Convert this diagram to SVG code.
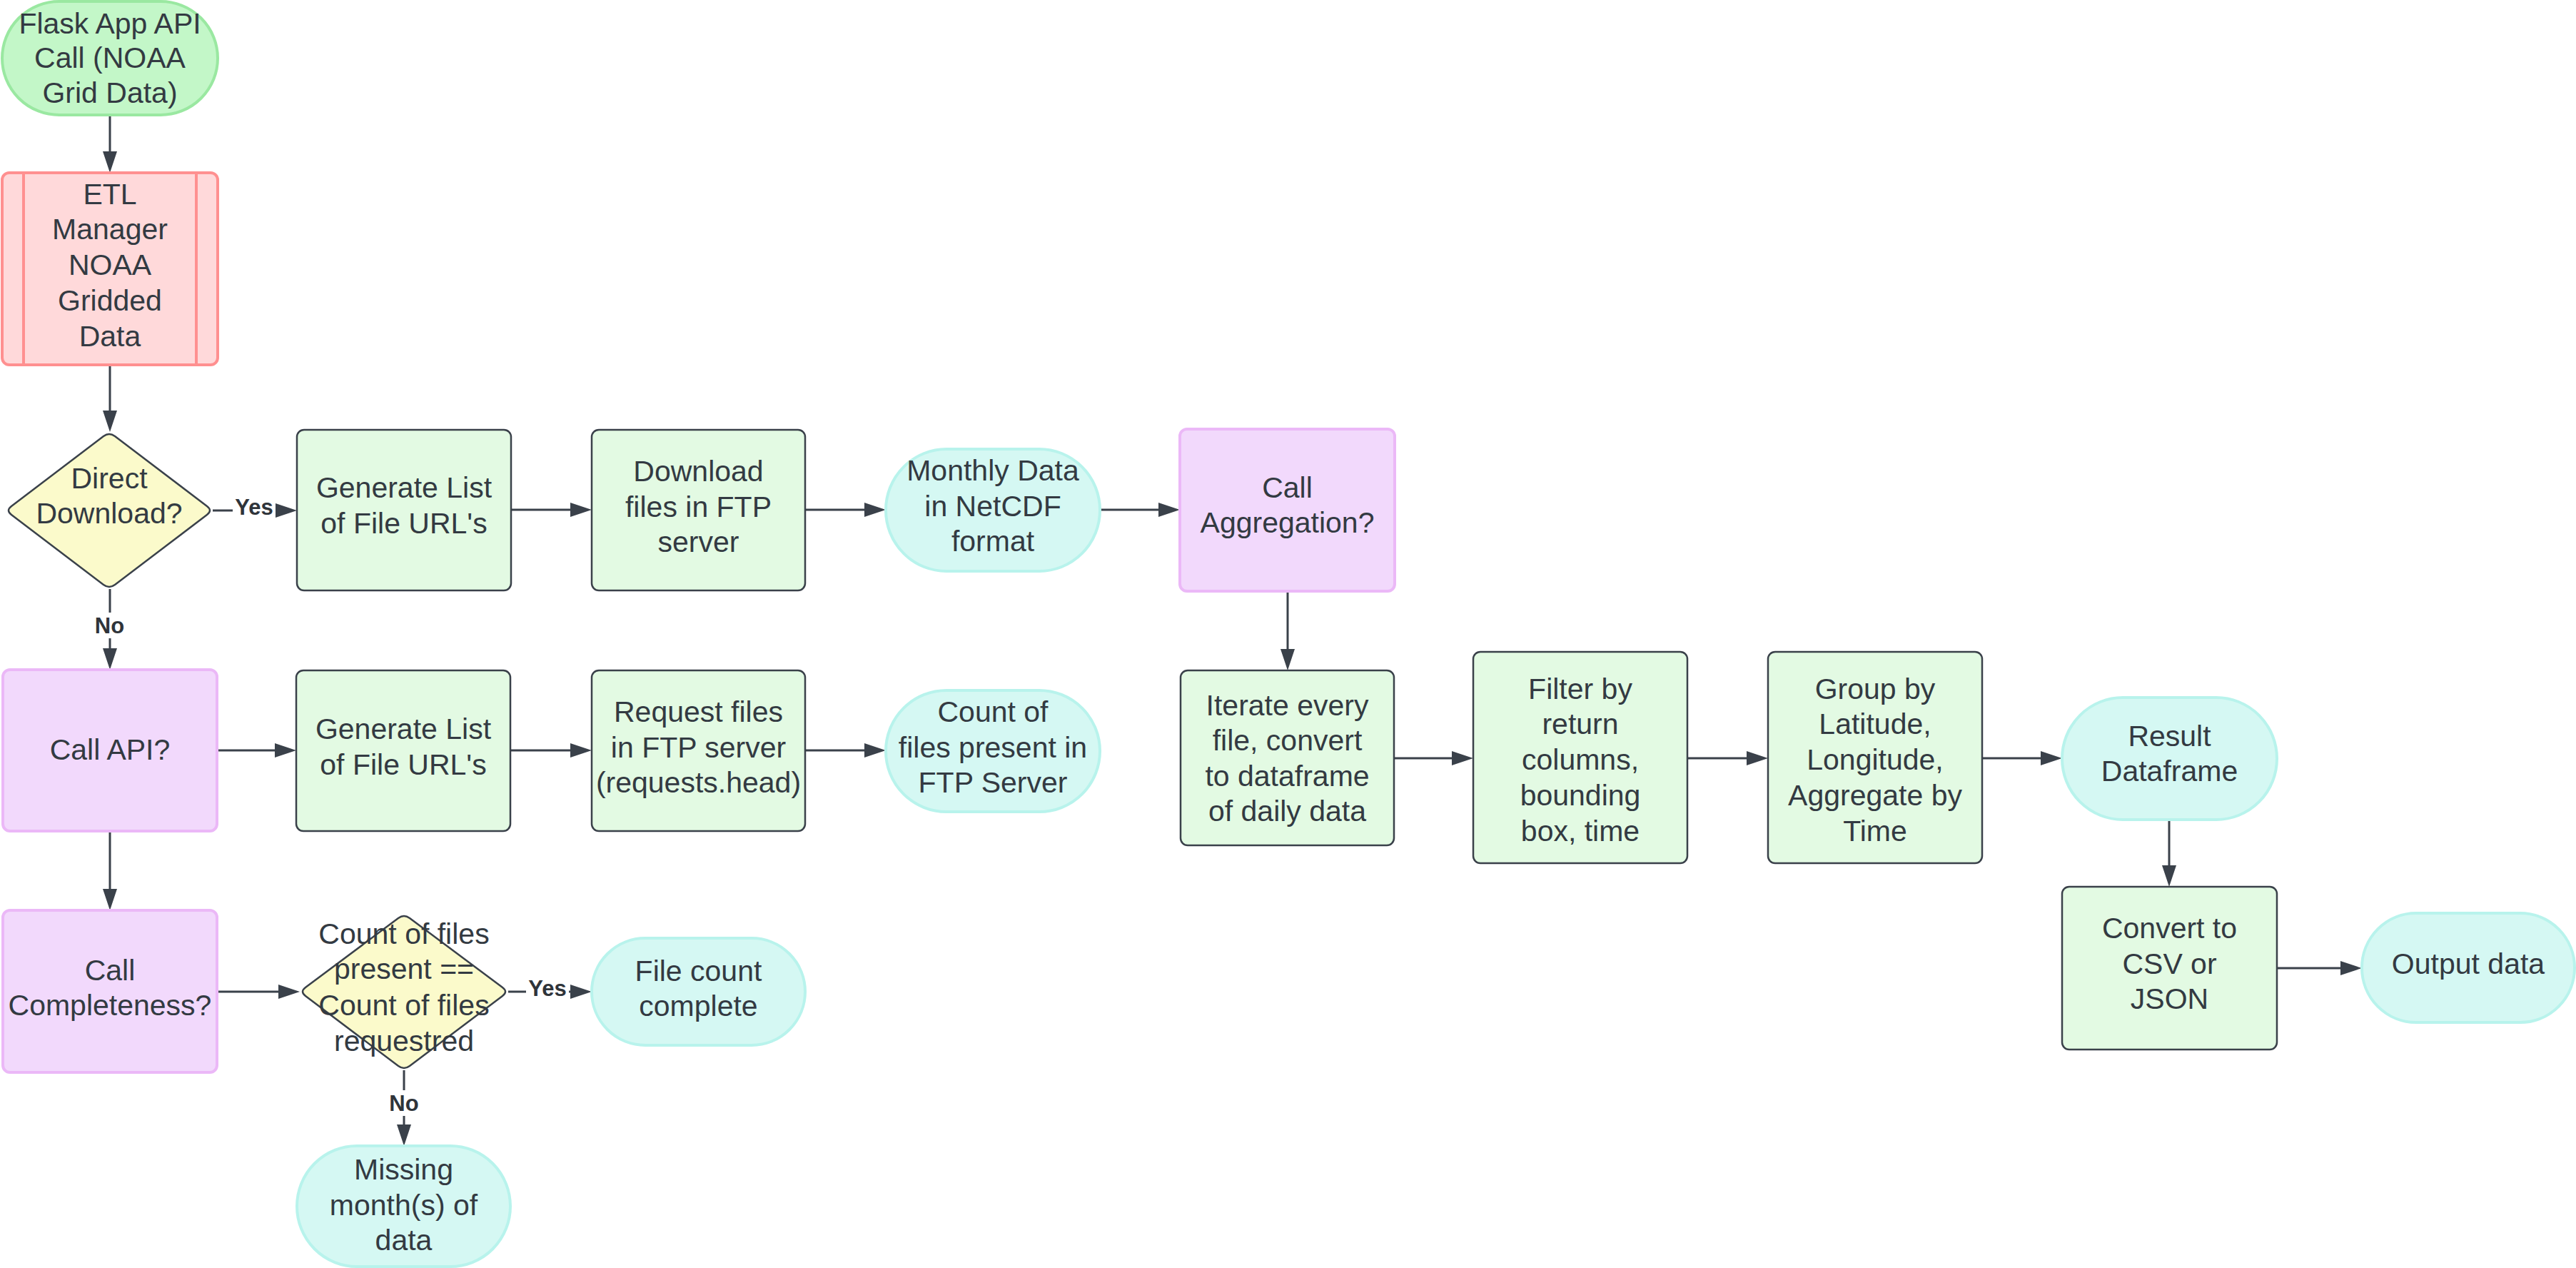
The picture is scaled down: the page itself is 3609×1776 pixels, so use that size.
<svg xmlns="http://www.w3.org/2000/svg" width="3609" height="1776" viewBox="0 0 3609 1776">
<defs>
<style>
.t{font-family:"Liberation Sans",Arial,sans-serif;font-size:41px;fill:#333a42;text-anchor:middle}
.lbl{font-family:"Liberation Sans",Arial,sans-serif;font-size:31px;font-weight:bold;fill:#2f343a;text-anchor:middle}
.c{fill:none;stroke:#3a414a;stroke-width:3;marker-end:url(#ah)}
.lb{fill:#ffffff}
.proc{fill:#e3fae3;stroke:#3a414a;stroke-width:2.5}
.term{fill:#d5f8f3;stroke:#b8f3ec;stroke-width:4}
.dec{fill:#f2d9fc;stroke:#ebb8f7;stroke-width:4}
.dia{fill:#fbfacb;stroke:#3a414a;stroke-width:2.5;stroke-linejoin:round}
.start{fill:#c3f7c8;stroke:#9ae8a1;stroke-width:4}
.etl{fill:#ffd9da;stroke:#ff9090;stroke-width:4}
</style>
<marker id="ah" markerUnits="userSpaceOnUse" markerWidth="30" markerHeight="20" refX="20" refY="10" orient="auto">
<path d="M0,0 L30,10 L0,20 Z" fill="#3a414a"/>
</marker>
</defs>
<rect width="3609" height="1776" fill="#ffffff"/>
<g id="connectors">
<path class="c" d="M154,163 V232"/>
<path class="c" d="M154,511 V595"/>
<path class="c" d="M298,715 H406"/>
<path class="c" d="M154,825 V928"/>
<path class="c" d="M716,714 H819"/>
<path class="c" d="M1128,714 H1231"/>
<path class="c" d="M1541,714 H1643"/>
<path class="c" d="M1804,828 V929"/>
<path class="c" d="M1953,1062 H2054"/>
<path class="c" d="M2364,1062 H2467"/>
<path class="c" d="M2777,1062 H2879"/>
<path class="c" d="M3039,1148 V1232"/>
<path class="c" d="M3190,1356 H3299"/>
<path class="c" d="M304,1051 H405"/>
<path class="c" d="M715,1051 H819"/>
<path class="c" d="M1128,1051 H1231"/>
<path class="c" d="M154,1164 V1265"/>
<path class="c" d="M304,1389 H410"/>
<path class="c" d="M712,1389 H819"/>
<path class="c" d="M566,1499 V1595"/>
<rect class="lb" x="326" y="694" width="60" height="34"/>
<text class="lbl" x="356" y="721">Yes</text>
<rect class="lb" x="130" y="858" width="47" height="36"/>
<text class="lbl" x="153.5" y="887">No</text>
<rect class="lb" x="737" y="1368" width="60" height="34"/>
<text class="lbl" x="767" y="1395">Yes</text>
<rect class="lb" x="542" y="1527" width="48" height="36"/>
<text class="lbl" x="566" y="1556">No</text>
</g>
<g id="flask">
<rect class="start" x="3" y="2" width="302" height="159" rx="80" ry="79.5"/>
<text class="t" x="154" y="47">Flask App API</text>
<text class="t" x="154" y="95">Call (NOAA</text>
<text class="t" x="154" y="144">Grid Data)</text>
</g>
<g id="etl">
<rect class="etl" x="3" y="242" width="302" height="269" rx="10"/>
<path class="etl" d="M33,242 V511 M275,242 V511"/>
<text class="t" x="154" y="286">ETL</text>
<text class="t" x="154" y="335">Manager</text>
<text class="t" x="154" y="385">NOAA</text>
<text class="t" x="154" y="435">Gridded</text>
<text class="t" x="154" y="485">Data</text>
</g>
<g id="direct-download">
<path class="dia" d="M161,611 L290,709 Q298,715 290,721 L161,819 Q153,825 145,819 L16,721 Q8,715 16,709 L145,611 Q153,605 161,611 Z"/>
<text class="t" x="153" y="684">Direct</text>
<text class="t" x="153" y="733">Download?</text>
</g>
<g id="gen-list-1">
<rect class="proc" x="416" y="602" width="300" height="225" rx="10"/>
<text class="t" x="566" y="697">Generate List</text>
<text class="t" x="566" y="747">of File URL's</text>
</g>
<g id="download">
<rect class="proc" x="829" y="602" width="299" height="225" rx="10"/>
<text class="t" x="978.5" y="674">Download</text>
<text class="t" x="978.5" y="724">files in FTP</text>
<text class="t" x="978.5" y="773">server</text>
</g>
<g id="monthly">
<rect class="term" x="1241" y="629" width="300" height="171" rx="85" ry="85.5"/>
<text class="t" x="1391" y="673">Monthly Data</text>
<text class="t" x="1391" y="723">in NetCDF</text>
<text class="t" x="1391" y="772">format</text>
</g>
<g id="call-aggregation">
<rect class="dec" x="1653" y="601" width="301" height="227" rx="10"/>
<text class="t" x="1803.5" y="697">Call</text>
<text class="t" x="1803.5" y="746">Aggregation?</text>
</g>
<g id="call-api">
<rect class="dec" x="4" y="938" width="300" height="226" rx="10"/>
<text class="t" x="154" y="1064">Call API?</text>
</g>
<g id="gen-list-2">
<rect class="proc" x="415" y="939" width="300" height="225" rx="10"/>
<text class="t" x="565" y="1035">Generate List</text>
<text class="t" x="565" y="1085">of File URL's</text>
</g>
<g id="request">
<rect class="proc" x="829" y="939" width="299" height="225" rx="10"/>
<text class="t" x="978.5" y="1011">Request files</text>
<text class="t" x="978.5" y="1061">in FTP server</text>
<text class="t" x="978.5" y="1110">(requests.head)</text>
</g>
<g id="count-present">
<rect class="term" x="1241" y="967" width="300" height="170" rx="85"/>
<text class="t" x="1391" y="1011">Count of</text>
<text class="t" x="1391" y="1061">files present in</text>
<text class="t" x="1391" y="1110">FTP Server</text>
</g>
<g id="iterate">
<rect class="proc" x="1654" y="939" width="299" height="245" rx="10"/>
<text class="t" x="1803.5" y="1002">Iterate every</text>
<text class="t" x="1803.5" y="1051">file, convert</text>
<text class="t" x="1803.5" y="1101">to dataframe</text>
<text class="t" x="1803.5" y="1150">of daily data</text>
</g>
<g id="filter">
<rect class="proc" x="2064" y="913" width="300" height="296" rx="10"/>
<text class="t" x="2214" y="979">Filter by</text>
<text class="t" x="2214" y="1028">return</text>
<text class="t" x="2214" y="1078">columns,</text>
<text class="t" x="2214" y="1128">bounding</text>
<text class="t" x="2214" y="1178">box, time</text>
</g>
<g id="group">
<rect class="proc" x="2477" y="913" width="300" height="296" rx="10"/>
<text class="t" x="2627" y="979">Group by</text>
<text class="t" x="2627" y="1028">Latitude,</text>
<text class="t" x="2627" y="1078">Longitude,</text>
<text class="t" x="2627" y="1128">Aggregate by</text>
<text class="t" x="2627" y="1178">Time</text>
</g>
<g id="result">
<rect class="term" x="2889" y="977" width="301" height="171" rx="85" ry="85.5"/>
<text class="t" x="3039.5" y="1045">Result</text>
<text class="t" x="3039.5" y="1094">Dataframe</text>
</g>
<g id="convert">
<rect class="proc" x="2889" y="1242" width="301" height="228" rx="10"/>
<text class="t" x="3039.5" y="1314">Convert to</text>
<text class="t" x="3039.5" y="1364">CSV or</text>
<text class="t" x="3039.5" y="1413">JSON</text>
</g>
<g id="output">
<rect class="term" x="3309" y="1279" width="298" height="153" rx="76" ry="76.5"/>
<text class="t" x="3458" y="1364">Output data</text>
</g>
<g id="call-completeness">
<rect class="dec" x="4" y="1275" width="300" height="227" rx="10"/>
<text class="t" x="154" y="1373">Call</text>
<text class="t" x="154" y="1422">Completeness?</text>
</g>
<g id="count-check">
<path class="dia" d="M574,1286 L704,1383 Q712,1389 704,1395 L574,1493 Q566,1499 558,1493 L428,1395 Q420,1389 428,1383 L558,1286 Q566,1280 574,1286 Z"/>
<text class="t" x="566" y="1322">Count of files</text>
<text class="t" x="566" y="1371">present ==</text>
<text class="t" x="566" y="1422">Count of files</text>
<text class="t" x="566" y="1472">requestred</text>
</g>
<g id="file-count-complete">
<rect class="term" x="829" y="1314" width="299" height="150" rx="75"/>
<text class="t" x="978.5" y="1374">File count</text>
<text class="t" x="978.5" y="1423">complete</text>
</g>
<g id="missing">
<rect class="term" x="416" y="1605" width="299" height="169" rx="84" ry="84.5"/>
<text class="t" x="565.5" y="1652">Missing</text>
<text class="t" x="565.5" y="1702">month(s) of</text>
<text class="t" x="565.5" y="1751">data</text>
</g>
</svg>
